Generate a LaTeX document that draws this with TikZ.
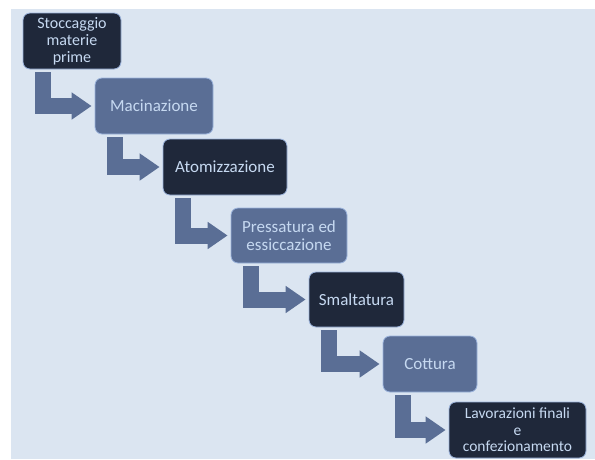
\documentclass[tikz,border=0pt]{standalone}
\usepackage{fontspec}
\setmainfont{Carlito}
\usetikzlibrary{arrows.meta,positioning}
\definecolor{sfondo}{HTML}{DBE5F1}
\definecolor{scuro}{HTML}{1F283A}
\definecolor{medio}{HTML}{5A6E95}
\definecolor{testo}{HTML}{C6D9F1}
\definecolor{bordo}{HTML}{9CB4DC}

\begin{document}
\begin{tikzpicture}[x=1pt,y=-1pt,
  box/.style={draw=bordo,line width=0.8pt,rounded corners=7pt,text=testo,align=center,
    inner sep=1pt,font=\fontsize{17}{18}\selectfont},
  dk/.style={box,fill=scuro},
  md/.style={box,fill=medio},
  flow/.style={draw=medio,line width=16pt,line cap=butt,line join=miter,
    -{Triangle[width=26pt,length=20pt]}}]
\useasboundingbox (0,0) rectangle (595,459);
\fill[sfondo] (11,9) rectangle (595,459);
\node[dk,minimum width=98pt,minimum height=56pt,font=\fontsize{16}{17}\selectfont] (stoc) at (72,41) {Stoccaggio\\materie\\prime};
\node[md,minimum width=118pt,minimum height=56pt] (mac) at (154,106) {Macinazione};
\node[dk,minimum width=124pt,minimum height=56pt] (atom) at (225,167) {Atomizzazione};
\node[md,minimum width=116pt,minimum height=55pt] (press) at (289,235.5) {Pressatura ed\\essiccazione};
\node[dk,minimum width=95pt,minimum height=55pt] (smal) at (356.5,299.5) {Smaltatura};
\node[md,minimum width=94pt,minimum height=56pt] (cott) at (430,364) {Cottura};
\node[dk,minimum width=137pt,minimum height=56pt,font=\fontsize{15.5}{16.5}\selectfont] (lav) at (517.5,430) {Lavorazioni finali\\e\\confezionamento};
%
\draw[flow] ([xshift=20pt,yshift=-3pt]stoc.south west) |- ([xshift=-3pt]mac.west);
\draw[flow] ([xshift=20pt,yshift=-3pt]mac.south west) |- ([xshift=-3pt]atom.west);
\draw[flow] ([xshift=20pt,yshift=-3pt]atom.south west) |- ([xshift=-3pt]press.west);
\draw[flow] ([xshift=20pt,yshift=-3pt]press.south west) |- ([xshift=-3pt]smal.west);
\draw[flow] ([xshift=20pt,yshift=-3pt]smal.south west) |- ([xshift=-3pt]cott.west);
\draw[flow] ([xshift=20pt,yshift=-3pt]cott.south west) |- ([xshift=-3pt]lav.west);
\end{tikzpicture}
\end{document}
